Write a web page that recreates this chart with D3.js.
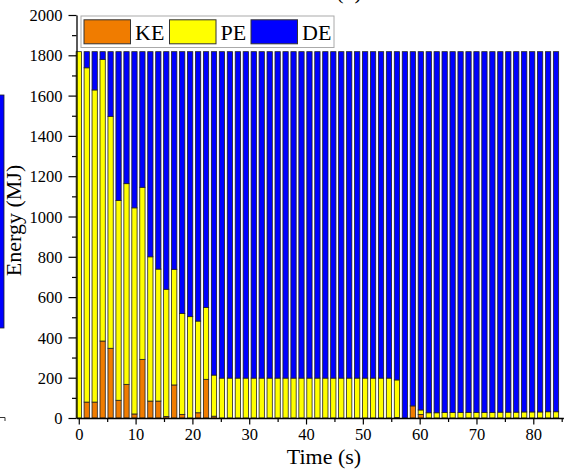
<!DOCTYPE html>
<html>
<head>
<meta charset="utf-8">
<script src="https://cdn.jsdelivr.net/npm/d3@7"></script>
<style>
  html, body { margin: 0; padding: 0; background: #fff; }
  svg { display: block; }
  text { font-family: "Liberation Serif", "Times New Roman", serif; fill: #000; }
</style>
</head>
<body>
<svg id="chart" width="564" height="473"></svg>
<script>
// ---- data ----
const times = [0,1.4,2.8,4.2,5.6,7,8.4,9.8,11.2,12.6,14,15.4,16.8,18.2,19.6,21,22.4,23.8,25.2,26.6,28,29.4,30.8,32.2,33.6,35,36.4,37.8,39.2,40.6,42,43.4,44.8,46.2,47.6,49,50.4,51.8,53.2,54.6,56,57.4,58.8,60.2,61.6,63,64.4,65.8,67.2,68.6,70,71.4,72.8,74.2,75.6,77,78.4,79.8,81.2,82.6,84];
const KE = [0,79,79,382,346,88,167,20,291,84,84,8,164,18,0,26,192,9,
  0,0,0,0,0,0,0,0,0,0,0,0,0,0,0,0,0,0,0,0,0,0,
  3,0,60,18,
  0,0,0,0,0,0,0,0,0,0,0,0,0,0,0,0,0];
const PE = [1818,1659,1549,1398,1151,992,996,1023,854,716,655,631,574,501,503,455,357,204,
  198,198,198,198,198,198,198,198,198,198,198,198,198,198,198,198,198,198,198,198,198,198,
  186,0,0,22,
  26,26,27,27,27,28,28,28,28,29,29,29,30,30,30,31,31];
const DE = [0,80,190,38,321,738,655,775,673,1018,1079,1179,1080,1299,1315,1337,1269,1605,
  1620,1620,1620,1620,1620,1620,1620,1620,1620,1620,1620,1620,1620,1620,1620,1620,1620,1620,1620,1620,1620,1620,
  1629,1818,1758,1778,
  1792,1792,1791,1791,1791,1790,1790,1790,1790,1789,1789,1789,1788,1788,1788,1787,1787];
const seriesNames = ["KE", "PE", "DE"];
const seriesColors = ["#F07C00", "#FFFF00", "#0000FF"];
const yTicks = [0,200,400,600,800,1000,1200,1400,1600,1800,2000];
const yMinor = [100,300,500,700,900,1100,1300,1500,1700,1900];
const xTicks = [0,10,20,30,40,50,60,70,80];
const xMinor = [5,15,25,35,45,55,65,75,85];

// ---- layout ----
const svg = d3.select("#chart");
const axisX = 76.5, axisY = 418, topY = 15, rightX = 563.4;

const x = d3.scaleLinear().domain([-0.4, 85.3]).range([axisX, rightX]);
const y = d3.scaleLinear().domain([0, 2000]).range([axisY, topY]);

const rows = times.map((t, i) => ({ t: t, KE: KE[i], PE: PE[i], DE: DE[i] }));
const stack = d3.stack().keys(seriesNames)(rows);
const barW = x(0.93) - x(0);

// cropped fragment of the neighbouring panel (left edge) and title above
svg.append("rect").attr("x", -1).attr("y", 95).attr("width", 5).attr("height", 233)
  .attr("fill", "#0000FF").attr("stroke", "#222").attr("stroke-width", 0.8);
svg.append("path").attr("d", "M0,417.5H5V421").attr("fill", "none").attr("stroke", "#333").attr("stroke-width", 1);
svg.append("text").attr("x", 349).attr("y", -1.5).attr("text-anchor", "middle")
  .style("font-size", "22px").text("(b)");

// bars
const g = svg.append("g");
stack.forEach((layer, si) => {
  g.append("g").selectAll("rect")
    .data(layer.filter(d => d[1] - d[0] > 0))
    .join("rect")
    .attr("x", d => x(d.data.t) - barW / 2)
    .attr("width", barW)
    .attr("y", d => y(d[1]))
    .attr("height", d => y(d[0]) - y(d[1]))
    .attr("fill", seriesColors[si])
    .attr("stroke", "#222")
    .attr("stroke-width", 0.8);
});

// y axis
const yAxisG = svg.append("g").attr("transform", `translate(${axisX},0)`)
  .call(d3.axisLeft(y).tickValues(yTicks).tickSize(8).tickSizeOuter(0).tickFormat(d3.format("d")));
yAxisG.selectAll(".tick text")
  .style("font-size", "16.5px")
  .attr("x", -14).attr("dy", "0.34em");
svg.append("g").attr("transform", `translate(${axisX},0)`)
  .call(d3.axisLeft(y).tickValues(yMinor).tickSize(4.5).tickSizeOuter(0).tickFormat(""))
  .select(".domain").remove();

// x axis
const xAxisG = svg.append("g").attr("transform", `translate(0,${axisY})`)
  .call(d3.axisBottom(x).tickValues(xTicks).tickSize(6.5).tickSizeOuter(0).tickFormat(d3.format("d")));
xAxisG.selectAll(".tick text").style("font-size", "16.5px").attr("y", 10.5);
svg.append("g").attr("transform", `translate(0,${axisY})`)
  .call(d3.axisBottom(x).tickValues(xMinor).tickSize(4).tickSizeOuter(0).tickFormat(""))
  .select(".domain").remove();

svg.selectAll(".domain").attr("stroke", "#000").attr("stroke-width", 1.3);
svg.selectAll(".tick line").attr("stroke", "#000").attr("stroke-width", 1.2);

// axis titles
svg.append("text")
  .attr("transform", "translate(21,220.5) rotate(-90)")
  .attr("text-anchor", "middle")
  .style("font-size", "22px")
  .text("Energy (MJ)");
svg.append("text")
  .attr("x", 324).attr("y", 464)
  .attr("text-anchor", "middle")
  .style("font-size", "22px")
  .text("Time (s)");

// legend
const leg = svg.append("g");
leg.append("rect").attr("x", 81).attr("y", 16).attr("width", 253).attr("height", 31.5)
  .attr("fill", "#fff").attr("stroke", "#aaa").attr("stroke-width", 1);
const legX = [84, 169.5, 251];
seriesNames.forEach((name, i) => {
  leg.append("rect").attr("x", legX[i]).attr("y", 19.8).attr("width", 46.5).attr("height", 24)
    .attr("fill", seriesColors[i]).attr("stroke", "#333").attr("stroke-width", 1);
  leg.append("text").attr("x", legX[i] + 51).attr("y", 40.3)
    .style("font-size", "22px").text(name);
});
</script>
</body>
</html>
